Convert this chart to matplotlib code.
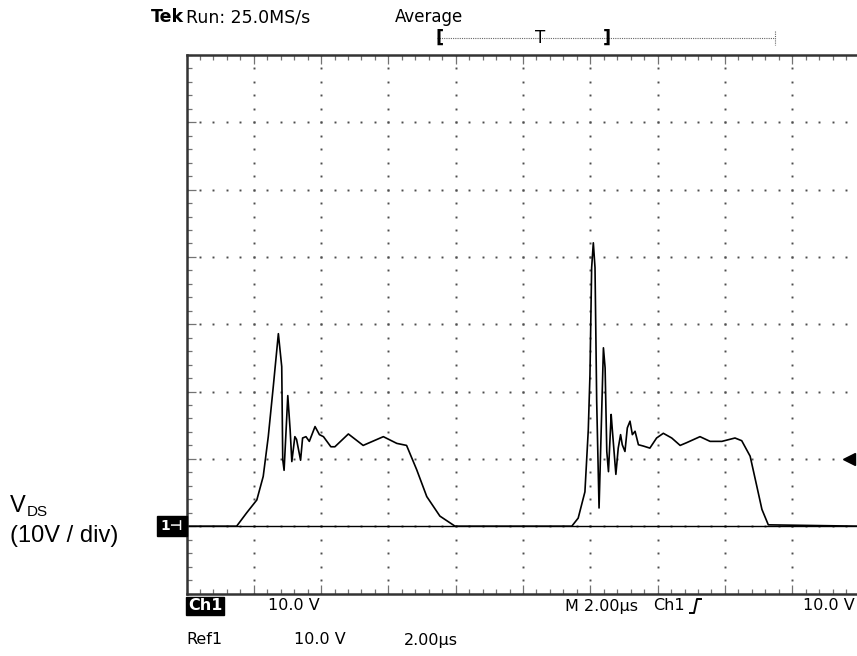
import matplotlib
matplotlib.use("Agg")
import matplotlib.pyplot as plt
from matplotlib.lines import Line2D

# Ch1 drain-source voltage, time in us, volts
t_ch1 = [0.0, 1.49, 1.79, 2.09, 2.28, 2.43, 2.58, 2.73, 2.83, 2.86, 2.90, 2.96, 3.01,
         3.08, 3.13, 3.22, 3.27, 3.39, 3.45, 3.55, 3.65, 3.82, 3.95, 4.07, 4.29, 4.41,
         4.81, 5.25, 5.85, 6.25, 6.54, 6.84, 7.14, 7.53, 7.98,
         11.45, 11.64, 11.84, 11.94, 11.99, 12.04, 12.09, 12.14, 12.19, 12.26, 12.32,
         12.39, 12.44, 12.49, 12.54, 12.62, 12.65, 12.76, 12.83, 12.90, 12.95, 13.03,
         13.10, 13.18, 13.25, 13.33, 13.43, 13.58, 13.77, 13.97, 14.17, 14.42, 14.67,
         14.86, 15.26, 15.56, 15.91, 16.30, 16.50, 16.75, 16.95, 17.10, 17.29, 20.0]
v_ch1 = [0.0, 0.0, 2.0, 3.9, 7.4, 13.3, 20.8, 28.6, 23.7, 9.9, 8.3, 14.3, 19.4,
         14.3, 9.6, 13.3, 12.9, 9.8, 13.1, 13.3, 12.6, 14.8, 13.6, 13.3, 11.8, 11.8,
         13.7, 12.0, 13.3, 12.3, 12.0, 8.4, 4.4, 1.5, 0.0,
         0.0, 1.2, 5.1, 14.3, 22.5, 38.4, 42.1, 38.4, 18.5, 2.7, 13.6,
         26.5, 23.5, 11.1, 8.1, 16.6, 14.6, 7.7, 11.6, 13.6, 12.1, 11.1,
         14.6, 15.6, 13.6, 14.1, 12.1, 11.9, 11.6, 13.1, 13.8, 13.1, 12.0,
         12.4, 13.3, 12.6, 12.6, 13.1, 12.7, 10.4, 5.9, 2.5, 0.2, 0.0]

# Ref1 trace sits at ground
t_ref1 = [0.0, 20.0]
v_ref1 = [0.0, 0.0]

trig_level = 10.0
us_per_div = 2.0
volts_per_div = 10.0

W, H = 857, 656
fig = plt.figure(figsize=(W / 100, H / 100), dpi=100)


def px(x, y):
    return x / W, 1 - y / H


# screen is 10 x 8 divisions, ground one division above the bottom
left, top, right, bottom = 186.5, 55.0, 859.5, 593.5
ax = fig.add_axes([left / W, 1 - bottom / H, (right - left) / W, (bottom - top) / H])
ax.set_xlim(0, 10 * us_per_div)
ax.set_ylim(-volts_per_div, 7 * volts_per_div)

# dotted graticule
gx = [i * us_per_div for i in range(1, 10)]
gy = [i * volts_per_div for i in range(0, 7)]
for x in gx:
    ys = [-volts_per_div + k * volts_per_div / 5 for k in range(41)]
    ax.plot([x] * len(ys), ys, ls="none", marker="s", ms=1.4, mew=0, color="0.3")
for y in gy:
    xs = [k * us_per_div / 5 for k in range(51)]
    ax.plot(xs, [y] * len(xs), ls="none", marker="s", ms=1.4, mew=0, color="0.3")

ax.plot(t_ref1, v_ref1, color="black", lw=1.0)
ax.plot(t_ch1, v_ch1, color="black", lw=1.2)

ax.plot([19.69], [trig_level], marker="<", ms=8, color="black", clip_on=False)

ax.set_xticks(gx)
ax.set_yticks(gy)
ax.set_xticks([k * us_per_div / 5 for k in range(51)], minor=True)
ax.set_yticks([-volts_per_div + k * volts_per_div / 5 for k in range(41)], minor=True)
ax.tick_params(which="both", direction="in", top=True, bottom=True, left=True, right=False,
               labelbottom=False, labelleft=False, color="0.45", width=0.9)
ax.tick_params(which="major", length=6.5)
ax.tick_params(which="minor", length=3.5)
for s in ["left", "top", "bottom"]:
    ax.spines[s].set_linewidth(1.8)
    ax.spines[s].set_color("0.2")
ax.spines["right"].set_visible(False)

# header
fig.text(*px(151, 17), "Tek", fontsize=12.5, fontweight="bold", va="center")
fig.text(*px(186, 17), "Run: 25.0MS/s", fontsize=12.5, va="center")
fig.text(*px(395, 17), "Average", fontsize=12, va="center")

# trigger position bar
bar = [px(437, 38), px(775, 38)]
fig.add_artist(Line2D([bar[0][0], bar[1][0]], [bar[0][1], bar[1][1]], color="0.4",
                      lw=0.8, ls=(0, (1, 1))))
fig.add_artist(Line2D([px(775, 31)[0]] * 2, [px(775, 31)[1], px(775, 45)[1]], color="0.4",
                      lw=0.8, ls=(0, (1, 1))))
fig.text(*px(440, 38), "[", fontsize=13, fontweight="bold", va="center", ha="center")
fig.text(*px(540, 38), "T", fontsize=12, va="center", ha="center")
fig.text(*px(607, 38), "]", fontsize=13, fontweight="bold", va="center", ha="center")

# ground marker
fig.text(*px(172, 526), "1\u22a3", fontsize=10, color="white", fontweight="bold",
         va="center", ha="center",
         bbox=dict(boxstyle="square,pad=0.25", fc="black", ec="black"))

# channel label
fig.text(*px(10, 506), "V", fontsize=17, family="Liberation Sans", va="center")
fig.text(*px(27, 512), "DS", fontsize=11, family="Liberation Sans", va="center")
fig.text(*px(10, 536), "(10V / div)", fontsize=17, family="Liberation Sans", va="center")

# readouts
fig.text(*px(188, 606), "Ch1", fontsize=11.5, fontweight="bold", color="white", va="center",
         bbox=dict(boxstyle="square,pad=0.1", fc="black", ec="black"))
fig.text(*px(268, 606), "10.0 V", fontsize=11.5, va="center")
fig.text(*px(565, 606), "M 2.00\u00b5s", fontsize=11.5, va="center")
fig.text(*px(653, 606), "Ch1", fontsize=11.5, va="center")
sx = [690, 694, 697, 701]
sy = [613, 613, 599, 599]
fig.add_artist(Line2D([px(x, 0)[0] for x in sx], [px(0, y)[1] for y in sy], color="black", lw=1.4))
fig.text(*px(855, 606), "10.0 V", fontsize=11.5, va="center", ha="right")

fig.text(*px(186, 640), "Ref1", fontsize=11.5, va="center")
fig.text(*px(294, 640), "10.0 V", fontsize=11.5, va="center")
fig.text(*px(404, 640), "2.00\u00b5s", fontsize=11.5, va="center")

fig.savefig("out.png", dpi=100)
